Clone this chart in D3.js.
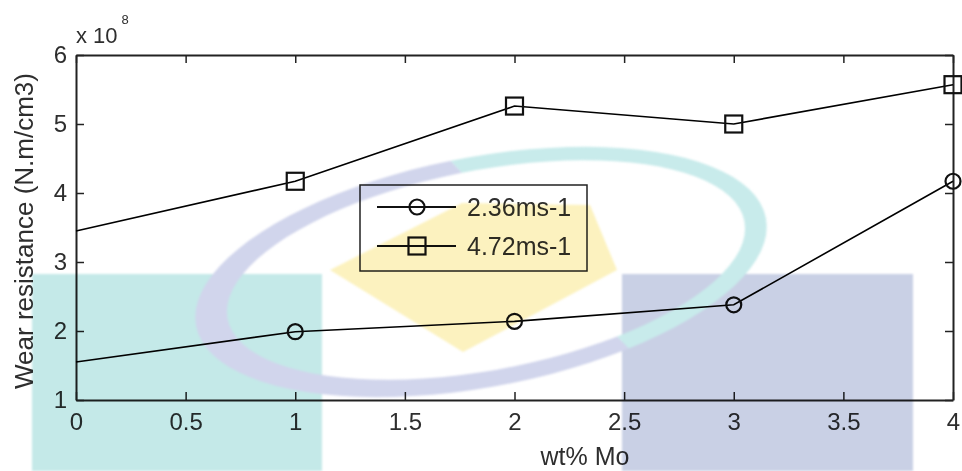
<!DOCTYPE html>
<html>
<head>
<meta charset="utf-8">
<script src="https://cdn.jsdelivr.net/npm/d3@7"></script>
<style>
  body { margin: 0; background: #fff; }
  svg { display: block; font-family: "Liberation Sans", Arial, sans-serif; }
  .wm { mix-blend-mode: multiply; }
</style>
</head>
<body>
<svg id="chart" width="962" height="471"></svg>
<script>
// wt% Mo
var xs = [0, 1, 2, 3, 4];
// wear resistance, x 10^8 N.m/cm3
var v236 = [1.55, 1.99, 2.14, 2.38, 4.17];
var v472 = [3.45, 4.17, 5.26, 5.00, 5.57];
var seriesNames = ["2.36ms-1", "4.72ms-1"];
var xTicks = [0, 0.5, 1, 1.5, 2, 2.5, 3, 3.5, 4];
var yTicks = [1, 2, 3, 4, 5, 6];

var svg = d3.select("#chart");
var pL = 76, pR = 953, pT = 55, pB = 400;

var x = d3.scaleLinear().domain([0, 4]).range([pL, pR]);
var y = d3.scaleLinear().domain([1, 6]).range([pB, pT]);

var ink = "#222", txt = "#2e2e2e";

// box axes, ticks pointing inward like matlab
var tl = 8;
var gx = svg.append("g").attr("transform", "translate(0," + pB + ")")
  .call(d3.axisBottom(x).tickValues(xTicks).tickSizeInner(-tl).tickSizeOuter(0)
    .tickPadding(13).tickFormat(d3.format("")));
var gxt = svg.append("g").attr("transform", "translate(0," + pT + ")")
  .call(d3.axisTop(x).tickValues(xTicks).tickSizeInner(-tl).tickSizeOuter(0).tickFormat(""));
var gy = svg.append("g").attr("transform", "translate(" + pL + ",0)")
  .call(d3.axisLeft(y).tickValues(yTicks).tickSizeInner(-tl).tickSizeOuter(0)
    .tickPadding(9).tickFormat(d3.format("")));
var gyr = svg.append("g").attr("transform", "translate(" + pR + ",0)")
  .call(d3.axisRight(y).tickValues(yTicks).tickSizeInner(-tl).tickSizeOuter(0).tickFormat(""));

[gx, gxt, gy, gyr].forEach(function (g) {
  g.select(".domain").attr("stroke", ink).attr("stroke-width", 2);
  g.selectAll(".tick line").attr("stroke", ink).attr("stroke-width", 1.5);
  g.selectAll(".tick text").attr("fill", txt).style("font-size", "24px");
});

// exponent label
var ex = svg.append("text").attr("x", pL).attr("y", 43)
  .attr("fill", txt).style("font-size", "22px").text("x 10");
ex.append("tspan").attr("dy", -19).attr("dx", 4).style("font-size", "13px").text("8");

svg.append("text")
  .attr("transform", "translate(33,231) rotate(-90)")
  .attr("text-anchor", "middle").attr("fill", txt).style("font-size", "26px")
  .text("Wear resistance (N.m/cm3)");

svg.append("text").attr("x", 585).attr("y", 465)
  .attr("text-anchor", "middle").attr("fill", txt).style("font-size", "25px")
  .text("wt% Mo");

// data lines
var line = d3.line().x(function (d) { return x(d[0]); }).y(function (d) { return y(d[1]); });
var s1 = d3.zip(xs, v236), s2 = d3.zip(xs, v472);

svg.append("path").datum(s1).attr("d", line).attr("fill", "none").attr("stroke", "#000").attr("stroke-width", 1.6);
svg.append("path").datum(s2).attr("d", line).attr("fill", "none").attr("stroke", "#000").attr("stroke-width", 1.6);

// no marker at x = 0 in the original
svg.selectAll("circle.m").data(s1.filter(function (d) { return d[0] > 0; })).enter()
  .append("circle").attr("class", "m")
  .attr("cx", function (d) { return x(d[0]); }).attr("cy", function (d) { return y(d[1]); })
  .attr("r", 7.5).attr("fill", "none").attr("stroke", "#111").attr("stroke-width", 2.2);
svg.selectAll("rect.m").data(s2.filter(function (d) { return d[0] > 0; })).enter()
  .append("rect").attr("class", "m")
  .attr("x", function (d) { return x(d[0]) - 8.5; }).attr("y", function (d) { return y(d[1]) - 8.5; })
  .attr("width", 17).attr("height", 17).attr("fill", "none").attr("stroke", "#111").attr("stroke-width", 2.2);

// legend
var lg = svg.append("g").attr("transform", "translate(360,185)");
lg.append("rect").attr("width", 227).attr("height", 86).attr("fill", "#fff")
  .attr("stroke", "#222").attr("stroke-width", 1.5);
seriesNames.forEach(function (name, i) {
  var ly = 22 + i * 39;
  lg.append("line").attr("x1", 17).attr("x2", 96).attr("y1", ly).attr("y2", ly)
    .attr("stroke", "#111").attr("stroke-width", 1.8);
  if (i === 0) {
    lg.append("circle").attr("cx", 57).attr("cy", ly).attr("r", 7.5)
      .attr("fill", "none").attr("stroke", "#111").attr("stroke-width", 2.2);
  } else {
    lg.append("rect").attr("x", 48.5).attr("y", ly - 8.5).attr("width", 17).attr("height", 17)
      .attr("fill", "none").attr("stroke", "#111").attr("stroke-width", 2.2);
  }
  lg.append("text").attr("x", 107).attr("y", ly + 9).attr("fill", txt)
    .style("font-size", "25px").text(name);
});

// watermark laid over everything
var wm = svg.append("g").attr("class", "wm").style("filter", "blur(0.8px)");
wm.append("rect").attr("x", 32).attr("y", 274).attr("width", 290).attr("height", 197).attr("fill", "#c4e9e8");
wm.append("rect").attr("x", 622).attr("y", 274).attr("width", 291).attr("height", 197).attr("fill", "#c9d0e5");
wm.append("path").attr("d", "M330,270 L462,203 L590,205 L617,270 L463,352 Z").attr("fill", "#fcf2bf");

function ellipse(cx, cy, rx, ry, rot) {
  var a = rot * Math.PI / 180;
  var pts = d3.range(0, 361, 4).map(function (t) {
    var r = t * Math.PI / 180, ex = rx * Math.cos(r), ey = ry * Math.sin(r);
    return [cx + ex * Math.cos(a) - ey * Math.sin(a), cy + ex * Math.sin(a) + ey * Math.cos(a)];
  });
  return "M" + pts.join("L") + "Z";
}
var ring = ellipse(481, 272, 290, 115, -10.7) + ellipse(486, 270, 263, 100, -10.7);
var defs = svg.append("defs");
defs.append("clipPath").attr("id", "cl").append("path").attr("d", "M0,0 L298,0 L745,471 L0,471 Z");
defs.append("clipPath").attr("id", "cr").append("path").attr("d", "M298,0 L962,0 L962,471 L745,471 Z");
wm.append("path").attr("d", ring).attr("fill-rule", "evenodd").attr("fill", "#d1d5ec").attr("clip-path", "url(#cl)");
wm.append("path").attr("d", ring).attr("fill-rule", "evenodd").attr("fill", "#c8ebeb").attr("clip-path", "url(#cr)");
</script>
</body>
</html>
